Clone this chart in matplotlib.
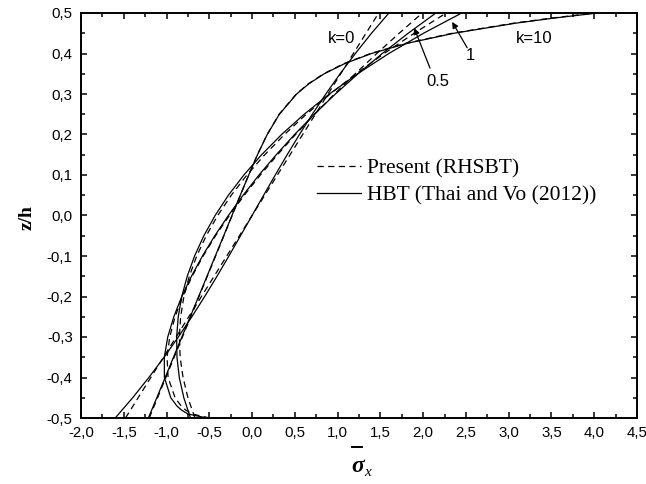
import matplotlib
matplotlib.use("Agg")
import matplotlib.pyplot as plt
from matplotlib.ticker import MultipleLocator, FuncFormatter
from matplotlib.lines import Line2D

# ---------------- data ----------------
z_main = [-0.5, -0.45, -0.4, -0.35, -0.3, -0.25, -0.2, -0.15, -0.1, -0.05, 0.0,
          0.05, 0.1, 0.15, 0.2, 0.25, 0.3, 0.35, 0.4, 0.45, 0.5]
z_k05 = [-0.5, -0.49, -0.48, -0.47, -0.45, -0.4, -0.35, -0.3, -0.25, -0.2, -0.15,
         -0.1, -0.05, 0.0, 0.05, 0.1, 0.15, 0.2, 0.25, 0.3, 0.35, 0.4, 0.45, 0.5]
z_k10 = [-0.5, -0.45, -0.4, -0.35, -0.3, -0.25, -0.2, -0.15, -0.1, -0.05, 0.0,
         0.05, 0.1, 0.15, 0.2, 0.25, 0.3, 0.325, 0.35, 0.375, 0.4, 0.425, 0.45,
         0.475, 0.4875, 0.5]

# HBT (Thai and Vo (2012)) - solid
hbt_k0 = [-1.600, -1.396, -1.207, -1.029, -0.862, -0.704, -0.554, -0.410, -0.271,
          -0.135, 0.0, 0.135, 0.271, 0.410, 0.554, 0.704, 0.862, 1.029, 1.207,
          1.396, 1.600]
hbt_k05 = [-0.530, -0.750, -0.828, -0.880, -0.950, -1.025, -1.026, -0.986, -0.915,
           -0.822, -0.709, -0.580, -0.436, -0.277, -0.105, 0.081, 0.282, 0.497,
           0.728, 0.974, 1.239, 1.522, 1.825, 2.149]
hbt_k1 = [-0.720, -0.798, -0.851, -0.878, -0.882, -0.863, -0.822, -0.758, -0.672,
          -0.564, -0.432, -0.277, -0.096, 0.111, 0.345, 0.609, 0.904, 1.234,
          1.599, 2.004, 2.451]
hbt_k10 = [-1.212, -1.114, -1.016, -0.919, -0.821, -0.723, -0.625, -0.527, -0.430,
           -0.332, -0.235, -0.138, -0.039, 0.063, 0.177, 0.319, 0.521, 0.662,
           0.844, 1.082, 1.396, 1.811, 2.360, 3.086, 3.531, 4.040]

# Present (RHSBT) - dashed
pre_k0 = [-1.480, -1.332, -1.184, -1.036, -0.888, -0.740, -0.592, -0.444, -0.296,
          -0.148, 0.0, 0.148, 0.296, 0.444, 0.592, 0.740, 0.888, 1.036, 1.184,
          1.332, 1.480]
pre_k05 = [-0.495, -0.702, -0.778, -0.830, -0.900, -0.982, -0.994, -0.963, -0.900,
           -0.811, -0.701, -0.572, -0.427, -0.266, -0.091, 0.097, 0.297, 0.508,
           0.731, 0.963, 1.206, 1.458, 1.720, 1.990]
pre_k1 = [-0.668, -0.750, -0.807, -0.841, -0.850, -0.835, -0.797, -0.734, -0.647,
          -0.536, -0.402, -0.243, -0.060, 0.148, 0.379, 0.634, 0.913, 1.216,
          1.544, 1.895, 2.270]
pre_k10 = [-1.202, -1.105, -1.008, -0.911, -0.814, -0.717, -0.620, -0.523, -0.426,
           -0.329, -0.233, -0.137, -0.039, 0.062, 0.176, 0.316, 0.517, 0.657,
           0.837, 1.073, 1.385, 1.796, 2.341, 3.061, 3.502, 4.007]

legend_labels = ["Present (RHSBT)", "HBT (Thai and Vo (2012))"]
curve_labels = ["k=0", "0.5", "1", "k=10"]

# ---------------- figure ----------------
fig = plt.figure(figsize=(6.46, 4.84), dpi=100)
ax = fig.add_axes([81 / 646, 1 - 418 / 484, 556 / 646, 405 / 484])

lw = 0.9
dash = (0, (5.0, 3.5))
solid_lines = []
dashed_lines = []
for x, z in [(pre_k0, z_main), (pre_k05, z_k05), (pre_k1, z_main), (pre_k10, z_k10)]:
    l, = ax.plot(x, z, color="black", lw=lw, linestyle=dash)
    dashed_lines.append(l)
for x, z in [(hbt_k0, z_main), (hbt_k05, z_k05), (hbt_k1, z_main), (hbt_k10, z_k10)]:
    l, = ax.plot(x, z, color="black", lw=lw, linestyle="-")
    solid_lines.append(l)

ax.set_xlim(-2.0, 4.5)
ax.set_ylim(-0.5, 0.5)
ax.xaxis.set_major_locator(MultipleLocator(0.5))
ax.xaxis.set_minor_locator(MultipleLocator(0.25))
ax.yaxis.set_major_locator(MultipleLocator(0.1))
ax.yaxis.set_minor_locator(MultipleLocator(0.05))

fmt = FuncFormatter(lambda v, p: ("%.1f" % v).replace(".", ",").replace("-0,0", "0,0"))
ax.xaxis.set_major_formatter(fmt)
ax.yaxis.set_major_formatter(fmt)

for s in ax.spines.values():
    s.set_linewidth(1.4)
ax.tick_params(which="both", direction="in", top=True, right=True,
               labeltop=False, labelright=False, width=1.1, color="black")
ax.tick_params(which="major", length=4.5)
ax.tick_params(which="minor", length=2.6)
ax.tick_params(axis="y", which="major", pad=6)
ax.tick_params(axis="x", which="major", pad=6)
for lab in ax.get_xticklabels() + ax.get_yticklabels():
    lab.set_fontfamily("Liberation Sans")
    lab.set_fontsize(10.8)

# axis labels
fig.text(27 / 646, 1 - 218 / 484, "z/h", rotation=90, ha="center", va="center",
         fontfamily="Liberation Serif", fontweight="bold", fontsize=14)
fig.add_artist(Line2D([352 / 646, 362 / 646], [1 - 447 / 484, 1 - 447 / 484],
                      color="black", lw=1.4))
fig.text(358 / 646, 1 - 467 / 484, "σ", ha="center", va="center",
         fontfamily="Liberation Serif", fontweight="bold", fontstyle="italic",
         fontsize=17)
fig.text(368 / 646, 1 - 472 / 484, "x", ha="center", va="center",
         fontfamily="Liberation Serif", fontstyle="italic", fontsize=11)

# legend
ax.legend([dashed_lines[0], solid_lines[0]], legend_labels, loc="upper left",
          bbox_to_anchor=(0.4245, 0.64), frameon=False, borderpad=0,
          borderaxespad=0, handlelength=2.05, handletextpad=0.27,
          labelspacing=0.31, prop={"family": "Liberation Serif", "size": 15.5})

# curve labels
tf = dict(fontfamily="Liberation Sans", fontsize=12, ha="center", va="center")
ax.text(1.041, 0.438, curve_labels[0], **tf)
ax.text(2.175, 0.332, curve_labels[1], **tf)
ax.text(2.55, 0.394, curve_labels[2], **tf)
ax.text(3.298, 0.436, curve_labels[3], **tf)
ap = dict(arrowstyle="-|>", color="black", lw=0.9, mutation_scale=9,
          shrinkA=0, shrinkB=0)
ax.annotate("", xy=(1.895, 0.463), xytext=(2.08, 0.364), arrowprops=ap)
ax.annotate("", xy=(2.339, 0.478), xytext=(2.515, 0.414), arrowprops=ap)

fig.savefig("out.png", dpi=100)
